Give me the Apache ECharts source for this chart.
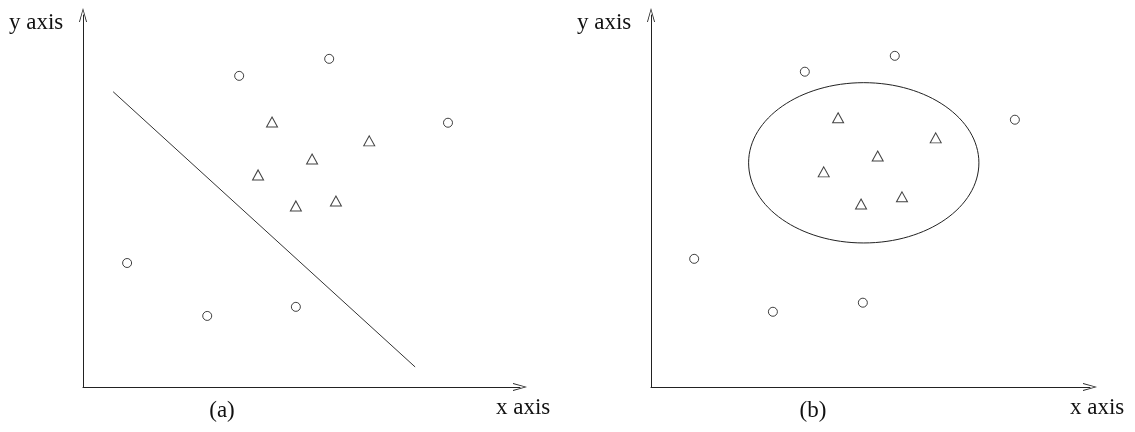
<!DOCTYPE html>
<html>
<head>
<meta charset="utf-8">
<script src="https://cdn.jsdelivr.net/npm/echarts@6/dist/echarts.min.js"></script>
<style>
  html, body { margin: 0; padding: 0; background: #fff; }
  #chart { width: 1135px; height: 432px; }
</style>
</head>
<body>
<div id="chart"></div>
<script>
// Panel (a): two classes separated by a straight line
const circlesA = [[3.47, 8.23], [5.47, 8.68], [8.11, 6.99], [0.98, 3.28], [2.76, 1.88], [4.73, 2.12]];
const trianglesA = [[4.20, 7.01], [5.09, 6.03], [6.36, 6.51], [3.89, 5.61], [4.73, 4.79], [5.62, 4.92]];
const separatorA = [[0.67, 7.81], [7.38, 0.53]];

// Panel (b): the same classes separated by an ellipse
const circlesB = [[3.42, 8.34], [5.42, 8.76], [8.09, 7.07], [0.96, 3.39], [2.71, 1.99], [4.71, 2.23]];
const trianglesB = [[4.16, 7.12], [5.04, 6.11], [6.33, 6.59], [3.84, 5.69], [4.67, 4.84], [5.58, 5.03]];
// center x, center y, radius x, radius y
const ellipseB = [[4.73, 5.93, 2.56, 2.12]];

const axisNames = { x: 'x axis', y: 'y axis' };
const panelLabels = ['(a)', '(b)'];

const FONT = '"Liberation Serif", "DejaVu Serif", serif';
// open arrow head: a thin chevron
const ARROW = 'path://M0,14 L4,0 L8,14 L7.1,14 L4,2.6 L0.9,14 Z';

function valueAxis(gridIndex, max) {
  return {
    type: 'value', gridIndex, min: 0, max,
    axisLine: { show: true, lineStyle: { color: '#222', width: 1 },
      symbol: ['none', ARROW], symbolSize: [8, 14], symbolOffset: [0, 0] },
    axisTick: { show: false }, axisLabel: { show: false }, splitLine: { show: false }
  };
}

const markerStyle = { color: '#fff', borderColor: '#111', borderWidth: 1 };

function textEl(text, x, y, align) {
  return { type: 'text', x, y, style: { text, fontFamily: FONT, fontSize: 23, fill: '#111',
    textAlign: align || 'left', textVerticalAlign: 'middle' } };
}

const chart = echarts.init(document.getElementById('chart'), null, { renderer: 'canvas' });
chart.setOption({
  backgroundColor: '#fff',
  animation: false,
  grid: [
    { left: 83, top: 15, width: 437, height: 372 },
    { left: 651, top: 15, width: 439, height: 372 }
  ],
  xAxis: [valueAxis(0, 9.71), valueAxis(1, 9.76)],
  yAxis: [valueAxis(0, 9.84), valueAxis(1, 9.84)],
  graphic: [
    textEl(axisNames.y, 9, 23),
    textEl(axisNames.x, 496, 408),
    textEl(panelLabels[0], 222, 411, 'center'),
    textEl(axisNames.y, 577, 23),
    textEl(axisNames.x, 1070, 408),
    textEl(panelLabels[1], 813, 411, 'center')
  ],
  series: [
    { type: 'line', xAxisIndex: 0, yAxisIndex: 0, data: separatorA, symbol: 'none',
      lineStyle: { color: '#333', width: 1 } },
    { type: 'scatter', xAxisIndex: 0, yAxisIndex: 0, data: circlesA, symbol: 'circle',
      symbolSize: 9, itemStyle: markerStyle },
    { type: 'scatter', xAxisIndex: 0, yAxisIndex: 0, data: trianglesA, symbol: 'triangle',
      symbolSize: [11, 10], itemStyle: markerStyle },
    { type: 'custom', xAxisIndex: 1, yAxisIndex: 1, data: ellipseB,
      renderItem: function (params, api) {
        const c = api.coord([api.value(0), api.value(1)]);
        const e = api.coord([api.value(0) + api.value(2), api.value(1) + api.value(3)]);
        return { type: 'ellipse', shape: { cx: c[0], cy: c[1], rx: Math.abs(e[0] - c[0]), ry: Math.abs(c[1] - e[1]) },
          style: { fill: 'none', stroke: '#222', lineWidth: 1 } };
      } },
    { type: 'scatter', xAxisIndex: 1, yAxisIndex: 1, data: circlesB, symbol: 'circle',
      symbolSize: 9, itemStyle: markerStyle },
    { type: 'scatter', xAxisIndex: 1, yAxisIndex: 1, data: trianglesB, symbol: 'triangle',
      symbolSize: [11, 10], itemStyle: markerStyle }
  ]
});
</script>
</body>
</html>
